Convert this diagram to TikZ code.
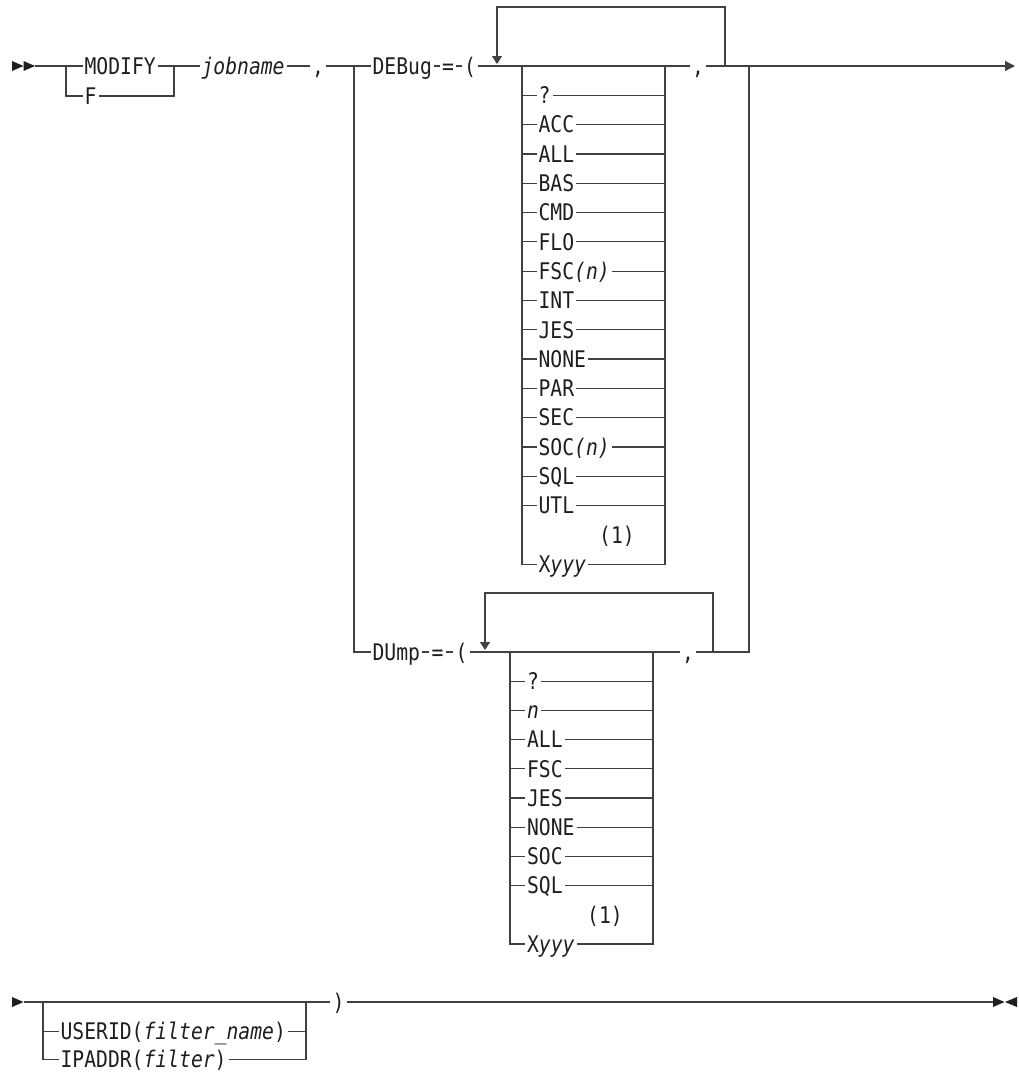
\documentclass[tikz,border=0pt]{standalone}
\usepackage{fontspec}
\usetikzlibrary{arrows.meta,positioning}
\newfontfamily\railfont[FakeStretch=0.86]{DejaVu Sans Mono}
\definecolor{ink}{RGB}{30,30,30}
\definecolor{rule}{RGB}{65,65,65}
\tikzset{
  every picture/.style={color=ink, line width=1.2pt},
  kw/.style={font={\railfont\fontsize{22.9pt}{26pt}\selectfont}, text=ink, inner sep=1.5pt, text height=16.7pt, text depth=0pt, anchor=west},
  sym/.style={kw, anchor=center},
  note/.style={kw, anchor=center},
  rail/.style={draw=rule, line width=1.2pt},
  repeatarrow/.style={rail, -{Triangle[length=8pt,width=10pt]}},
  exitarrow/.style={rail, -{Triangle[length=10pt,width=10pt]}},
  tipR/.pic={\fill[ink] (0,-5) -- (11.5,0) -- (0,5) -- cycle;},
  tipL/.pic={\fill[ink] (0,-5) -- (-12,0) -- (0,5) -- cycle;},
}

\begin{document}
\begin{tikzpicture}[x=1pt, y=-1pt]
  \useasboundingbox (0,0) rectangle (1019,1072);
  % first rail
  \pic at (12,66) {tipR};
  \pic at (23.5,66) {tipR};
  \coordinate (s0) at (35,66);
  \coordinate (b1) at (66,66);
  \coordinate (m1) at (174,66);
  \node[kw] (modify) at (82.5,66) {MODIFY};
  \node[kw] (f) at (82.5,96) {F};
  \node[kw] (job) at (199.5,66) {\itshape jobname};
  \node[sym] (comma1) at (318,66) {,};
  \coordinate (b2) at (354,66);
  \node[kw] (debug) at (370.5,66) {DEBug};
  \node[sym] (eq1) at (448,66) {=};
  \node[sym] (lp1) at (470,66) {(};
  \coordinate (bx1l) at (522,66);
  \coordinate (bx1r) at (665,66);
  \node[sym] (comma2) at (698,66) {,};
  \coordinate (rp1) at (725,66);
  \coordinate (top1) at (497,7);
  \coordinate (rep1) at (497,64);
  \coordinate (j2) at (749,66);
  \coordinate (end1) at (1015,66);
  \draw[rail] (s0) -- (modify.west);
  \draw[rail] (b1) |- (f.west);
  \draw[rail] (modify.east) -- (job.west);
  \draw[rail] (f.east) -| (m1);
  \draw[rail] (job.east) -- (comma1.west);
  \draw[rail] (comma1.east) -- (debug.west);
  \draw[rail] (debug.east) -- (eq1.west);
  \draw[rail] (eq1.east) -- (lp1.west);
  \draw[rail] (lp1.east) -- (comma2.west);
  \draw[rail] (comma2.east) -- (j2);
  \draw[repeatarrow] (rp1) |- (top1) -- (rep1);
  \draw[exitarrow] (j2) -- (end1);
  \foreach \opt [count=\k] in {?, ACC, ALL, BAS, CMD, FLO, FSC\textit{(n)}, INT, JES, NONE, PAR, SEC, SOC\textit{(n)}, SQL, UTL} {
    \node[kw] (dbg\k) at (536.5,{66+29.3*\k}) {\opt};
    \draw[rail] (dbg\k.west -| bx1l) -- (dbg\k.west);
    \draw[rail] (dbg\k.east) -- (dbg\k.east -| bx1r);
  }
  \node[note] (dbgnote) at (617,534.8) {(1)};
  \node[kw] (dbgx) at (536.5,564.1) {X\textit{yyy}};
  \draw[rail] (bx1l) |- (dbgx.west);
  \draw[rail] (dbgx.east) -| (bx1r);
  % DUmp rail
  \node[kw] (dump) at (370.5,652) {DUmp};
  \node[sym] (eq2) at (437.5,652) {=};
  \node[sym] (lp2) at (461.5,652) {(};
  \coordinate (bx2l) at (510,652);
  \coordinate (bx2r) at (653,652);
  \node[sym] (comma3) at (688,652) {,};
  \coordinate (rp2) at (713,652);
  \coordinate (top2) at (485,593);
  \coordinate (rep2) at (485,650);
  \draw[rail] (b2) |- (dump.west);
  \draw[rail] (dump.east) -- (eq2.west);
  \draw[rail] (eq2.east) -- (lp2.west);
  \draw[rail] (lp2.east) -- (comma3.west);
  \draw[rail] (comma3.east) -| (j2);
  \draw[repeatarrow] (rp2) |- (top2) -- (rep2);
  \foreach \opt [count=\k] in {?, \textit{n}, ALL, FSC, JES, NONE, SOC, SQL} {
    \node[kw] (dmp\k) at (525,{652+29.2*\k}) {\opt};
    \draw[rail] (dmp\k.west -| bx2l) -- (dmp\k.west);
    \draw[rail] (dmp\k.east) -- (dmp\k.east -| bx2r);
  }
  \node[note] (dmpnote) at (605,914.8) {(1)};
  \node[kw] (dmpx) at (525,944) {X\textit{yyy}};
  \draw[rail] (bx2l) |- (dmpx.west);
  \draw[rail] (dmpx.east) -| (bx2r);
  % second rail
  \pic at (12,1002) {tipR};
  \coordinate (s1) at (24,1002);
  \coordinate (b3) at (43,1002);
  \coordinate (m3) at (306,1002);
  \node[kw] (userid) at (58.5,1031.5) {USERID(\textit{filter\_name})};
  \node[kw] (ipaddr) at (58.5,1059.5) {IPADDR(\textit{filter})};
  \node[sym] (rparen) at (338.5,1002) {)};
  \coordinate (e3) at (993,1002);
  \draw[rail] (s1) -- (rparen.west);
  \draw[rail] (b3) |- (ipaddr.west);
  \draw[rail] (b3 |- userid.west) -- (userid.west);
  \draw[rail] (userid.east) -- (userid.east -| m3);
  \draw[rail] (ipaddr.east) -| (m3);
  \draw[rail] (rparen.east) -- (e3);
  \pic at (993,1002) {tipR};
  \pic at (1017,1002) {tipL};
\end{tikzpicture}
\end{document}
